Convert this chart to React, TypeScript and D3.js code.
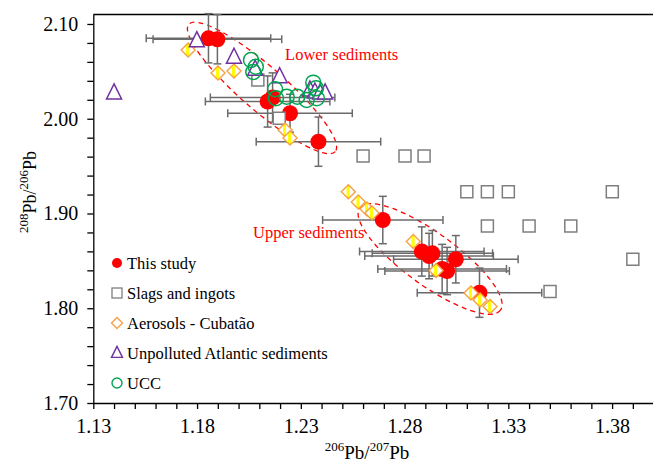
import React, { useEffect, useRef } from "react";
import * as d3 from "d3";

// ---- data ----
const studyX = [1.1855, 1.1898, 1.214, 1.2164, 1.2248, 1.2385, 1.2695, 1.2883, 1.2918, 1.2934, 1.3047, 1.2981, 1.3005, 1.3161];
const studyY = [2.0849, 2.0839, 2.0182, 2.0224, 2.0058, 1.9758, 1.8931, 1.8599, 1.8551, 1.858, 1.8517, 1.8414, 1.8393, 1.8164];
const studyXErr = [0.03, 0.031, 0.03, 0.03, 0.03, 0.03, 0.029, 0.03, 0.031, 0.029, 0.03, 0.031, 0.03, 0.03];
const studyYErr = [0.026, 0.026, 0.027, 0.026, 0.02, 0.026, 0.025, 0.026, 0.024, 0.024, 0.025, 0.026, 0.025, 0.026];

const slagX = [1.2093, 1.2196, 1.26, 1.2802, 1.2894, 1.31, 1.3199, 1.33, 1.3801, 1.3199, 1.34, 1.3601, 1.39, 1.3501];
const slagY = [2.0409, 2.0005, 1.9607, 1.9607, 1.9607, 1.923, 1.923, 1.923, 1.923, 1.8868, 1.8868, 1.8868, 1.8517, 1.8178];

const aerosolX = [1.1757, 1.1901, 1.1978, 1.2224, 1.2248, 1.2529, 1.2577, 1.2619, 1.2643, 1.2842, 1.2952, 1.312, 1.3164, 1.3212];
const aerosolY = [2.0726, 2.0483, 2.0504, 1.9881, 1.9797, 1.923, 1.9121, 1.9047, 1.9005, 1.8704, 1.8398, 1.8161, 1.8087, 1.8018];

const atlanticX = [1.14, 1.1799, 1.1978, 1.208, 1.2198, 1.2344, 1.2368, 1.2393, 1.2417];
const atlanticY = [2.0272, 2.0824, 2.0649, 2.0522, 2.0443, 2.0303, 2.0282, 2.0272, 2.0272];

const uccX = [1.206, 1.2083, 1.2071, 1.2176, 1.218, 1.2232, 1.2283, 1.2328, 1.236, 1.2373, 1.2377];
const uccY = [2.062, 2.0549, 2.0493, 2.0311, 2.0216, 2.0233, 2.0233, 2.0198, 2.0381, 2.0321, 2.0216];

const xMajor = [1.13, 1.18, 1.23, 1.28, 1.33, 1.38];
const yMajor = [1.7, 1.8, 1.9, 2.0, 2.1];

const legendLabels = ["This study", "Slags and ingots", "Aerosols - Cubatão", "Unpolluted Atlantic sediments", "UCC"];

// sediment groups (centre and label anchor in data units)
const groups = [
  { label: "Lower sediments", cx: 1.2113, cy: 2.0325, lx: 1.2224, ly: 2.0615 },
  { label: "Upper sediments", cx: 1.2923, cy: 1.852, lx: 1.207, ly: 1.8745 },
];

const W = 653;
const H = 462;
const serif = "'Liberation Serif', 'Times New Roman', serif";

export default function App() {
  const svgRef = useRef<SVGSVGElement | null>(null);

  useEffect(() => {
    const svg = d3.select(svgRef.current);
    svg.selectAll("*").remove();

    const x = d3.scaleLinear().domain([1.13, 1.4]).range([93.3, 653.6]);
    const y = d3.scaleLinear().domain([1.7, 2.11]).range([403, 14.5]);

    // gradient fill for the aerosol diamonds
    const defs = svg.append("defs");
    const grad = defs.append("linearGradient").attr("id", "dia").attr("x1", 0).attr("x2", 1).attr("y1", 0).attr("y2", 0);
    [["0", "#fff"], ["0.36", "#fff"], ["0.38", "#ffff00"], ["0.58", "#ffff00"], ["0.6", "#fff"], ["1", "#fff"]].forEach(([o, c]) =>
      grad.append("stop").attr("offset", o).attr("stop-color", c)
    );

    // === axes ===
    const isMajor = (v: number, list: number[]) => list.some((m) => Math.abs(m - v) < 1e-6);
    const xTicks = d3.range(0, 28).map((i) => +(1.13 + i * 0.01).toFixed(2));
    const yTicks = d3.range(0, 21).map((i) => +(1.7 + i * 0.02).toFixed(2));

    svg.append("line").attr("x1", x(1.13)).attr("x2", W).attr("y1", y(2.11)).attr("y2", y(2.11)).attr("stroke", "#000").attr("stroke-width", 1.3);

    const gx = svg
      .append("g")
      .attr("transform", `translate(0,${y(1.7)})`)
      .call(
        d3.axisBottom(x).tickValues(xTicks).tickSize(6).tickSizeOuter(0).tickPadding(10)
          .tickFormat((d) => (isMajor(+d, xMajor) ? d3.format(".2f")(+d) : ""))
      );
    gx.attr("font-family", serif).attr("font-size", 20);
    gx.selectAll("line, path").attr("stroke", "#000").attr("stroke-width", 1.3);

    const gy = svg
      .append("g")
      .attr("transform", `translate(${x(1.13)},0)`)
      .call(
        d3.axisLeft(y).tickValues(yTicks).tickSize(6).tickSizeOuter(0).tickPadding(9)
          .tickFormat((d) => (isMajor(+d, yMajor) ? d3.format(".2f")(+d) : ""))
      );
    gy.attr("font-family", serif).attr("font-size", 20);
    gy.selectAll("line, path").attr("stroke", "#000").attr("stroke-width", 1.3);

    // axis titles with superscripts
    const title = (g: any, a: string, b: string) => {
      g.append("tspan").attr("font-size", 13).attr("dy", -8).text(a);
      g.append("tspan").attr("dy", 8).text("Pb/");
      g.append("tspan").attr("font-size", 13).attr("dy", -8).text(b);
      g.append("tspan").attr("dy", 8).text("Pb");
    };
    const xt = svg.append("text").attr("x", 367).attr("y", 459).attr("text-anchor", "middle")
      .attr("font-family", serif).attr("font-size", 19);
    title(xt, "206", "207");
    const yt = svg.append("text").attr("transform", "translate(36,192) rotate(-90)").attr("text-anchor", "middle")
      .attr("font-family", serif).attr("font-size", 18);
    title(yt, "208", "206");

    // === group ellipses ===
    const ellipseShape = [
      { rx: 97, ry: 22, angle: 41 },
      { rx: 87, ry: 26, angle: 36 },
    ];
    groups.forEach((g, i) => {
      const e = ellipseShape[i];
      svg.append("ellipse")
        .attr("transform", `translate(${x(g.cx)},${y(g.cy)}) rotate(${e.angle})`)
        .attr("rx", e.rx).attr("ry", e.ry)
        .attr("fill", "none").attr("stroke", "#ff0000").attr("stroke-width", 1.3).attr("stroke-dasharray", "5,4");
      svg.append("text").attr("x", x(g.lx)).attr("y", y(g.ly))
        .attr("font-family", serif).attr("font-size", 16.5).attr("fill", "#ff0000").text(g.label);
    });

    // === error bars for this study ===
    const eb = svg.append("g").attr("stroke", "#6b6b6b").attr("stroke-width", 1.5);
    studyX.forEach((vx, i) => {
      const vy = studyY[i];
      const x0 = x(vx - studyXErr[i]), x1 = x(vx + studyXErr[i]);
      const y0 = y(vy - studyYErr[i]), y1 = y(vy + studyYErr[i]);
      const cx = x(vx), cy = y(vy);
      eb.append("line").attr("x1", x0).attr("x2", x1).attr("y1", cy).attr("y2", cy);
      eb.append("line").attr("x1", x0).attr("x2", x0).attr("y1", cy - 4).attr("y2", cy + 4);
      eb.append("line").attr("x1", x1).attr("x2", x1).attr("y1", cy - 4).attr("y2", cy + 4);
      eb.append("line").attr("x1", cx).attr("x2", cx).attr("y1", y0).attr("y2", y1);
      eb.append("line").attr("x1", cx - 4).attr("x2", cx + 4).attr("y1", y0).attr("y2", y0);
      eb.append("line").attr("x1", cx - 4).attr("x2", cx + 4).attr("y1", y1).attr("y2", y1);
    });

    // === markers ===
    const sq = d3.symbol(d3.symbolSquare, 144);
    const tri = (s: number) => `M0,${-s * 0.6}L${s / 2},${s * 0.4}L${-s / 2},${s * 0.4}Z`;
    const dia = (s: number) => `M0,${-s}L${s},0L0,${s}L${-s},0Z`;

    svg.append("g").selectAll("circle").data(studyX).join("circle")
      .attr("cx", (d) => x(d)).attr("cy", (_, i) => y(studyY[i])).attr("r", 8).attr("fill", "#ff0000");

    svg.append("g").selectAll("path").data(slagX).join("path")
      .attr("transform", (d, i) => `translate(${x(d)},${y(slagY[i])})`).attr("d", sq())
      .attr("fill", "#fff").attr("stroke", "#7f7f7f").attr("stroke-width", 1.5);

    svg.append("g").selectAll("path").data(aerosolX).join("path")
      .attr("transform", (d, i) => `translate(${x(d)},${y(aerosolY[i])})`).attr("d", dia(7))
      .attr("fill", "url(#dia)").attr("stroke", "#f7a043").attr("stroke-width", 1.4);

    svg.append("g").selectAll("path").data(atlanticX).join("path")
      .attr("transform", (d, i) => `translate(${x(d)},${y(atlanticY[i])})`).attr("d", tri(15))
      .attr("fill", "#fff").attr("stroke", "#7030a0").attr("stroke-width", 1.5);

    svg.append("g").selectAll("circle").data(uccX).join("circle")
      .attr("cx", (d) => x(d)).attr("cy", (_, i) => y(uccY[i])).attr("r", 7.5)
      .attr("fill", "none").attr("stroke", "#00a550").attr("stroke-width", 1.5);

    // === legend ===
    const lg = svg.append("g").attr("transform", "translate(117,263)");
    legendLabels.forEach((label, i) => {
      const row = lg.append("g").attr("transform", `translate(0,${i * 30})`);
      if (i === 0) row.append("circle").attr("r", 5).attr("fill", "#ff0000");
      if (i === 1) row.append("rect").attr("x", -5).attr("y", -5).attr("width", 10).attr("height", 10)
        .attr("fill", "#fff").attr("stroke", "#7f7f7f").attr("stroke-width", 1.3);
      if (i === 2) row.append("path").attr("d", dia(5.5)).attr("fill", "#fff").attr("stroke", "#f7a043").attr("stroke-width", 1.4);
      if (i === 3) row.append("path").attr("d", tri(11)).attr("fill", "#fff").attr("stroke", "#7030a0").attr("stroke-width", 1.4);
      if (i === 4) row.append("circle").attr("r", 5).attr("fill", "none").attr("stroke", "#00a550").attr("stroke-width", 1.4);
      row.append("text").attr("x", 10).attr("y", 5.5).attr("font-family", serif).attr("font-size", 16.5).text(label);
    });
  }, []);

  return (
    <svg
      ref={svgRef}
      width={W}
      height={H}
      style={{ position: "absolute", left: 0, top: 0, background: "#fff" }}
    />
  );
}
